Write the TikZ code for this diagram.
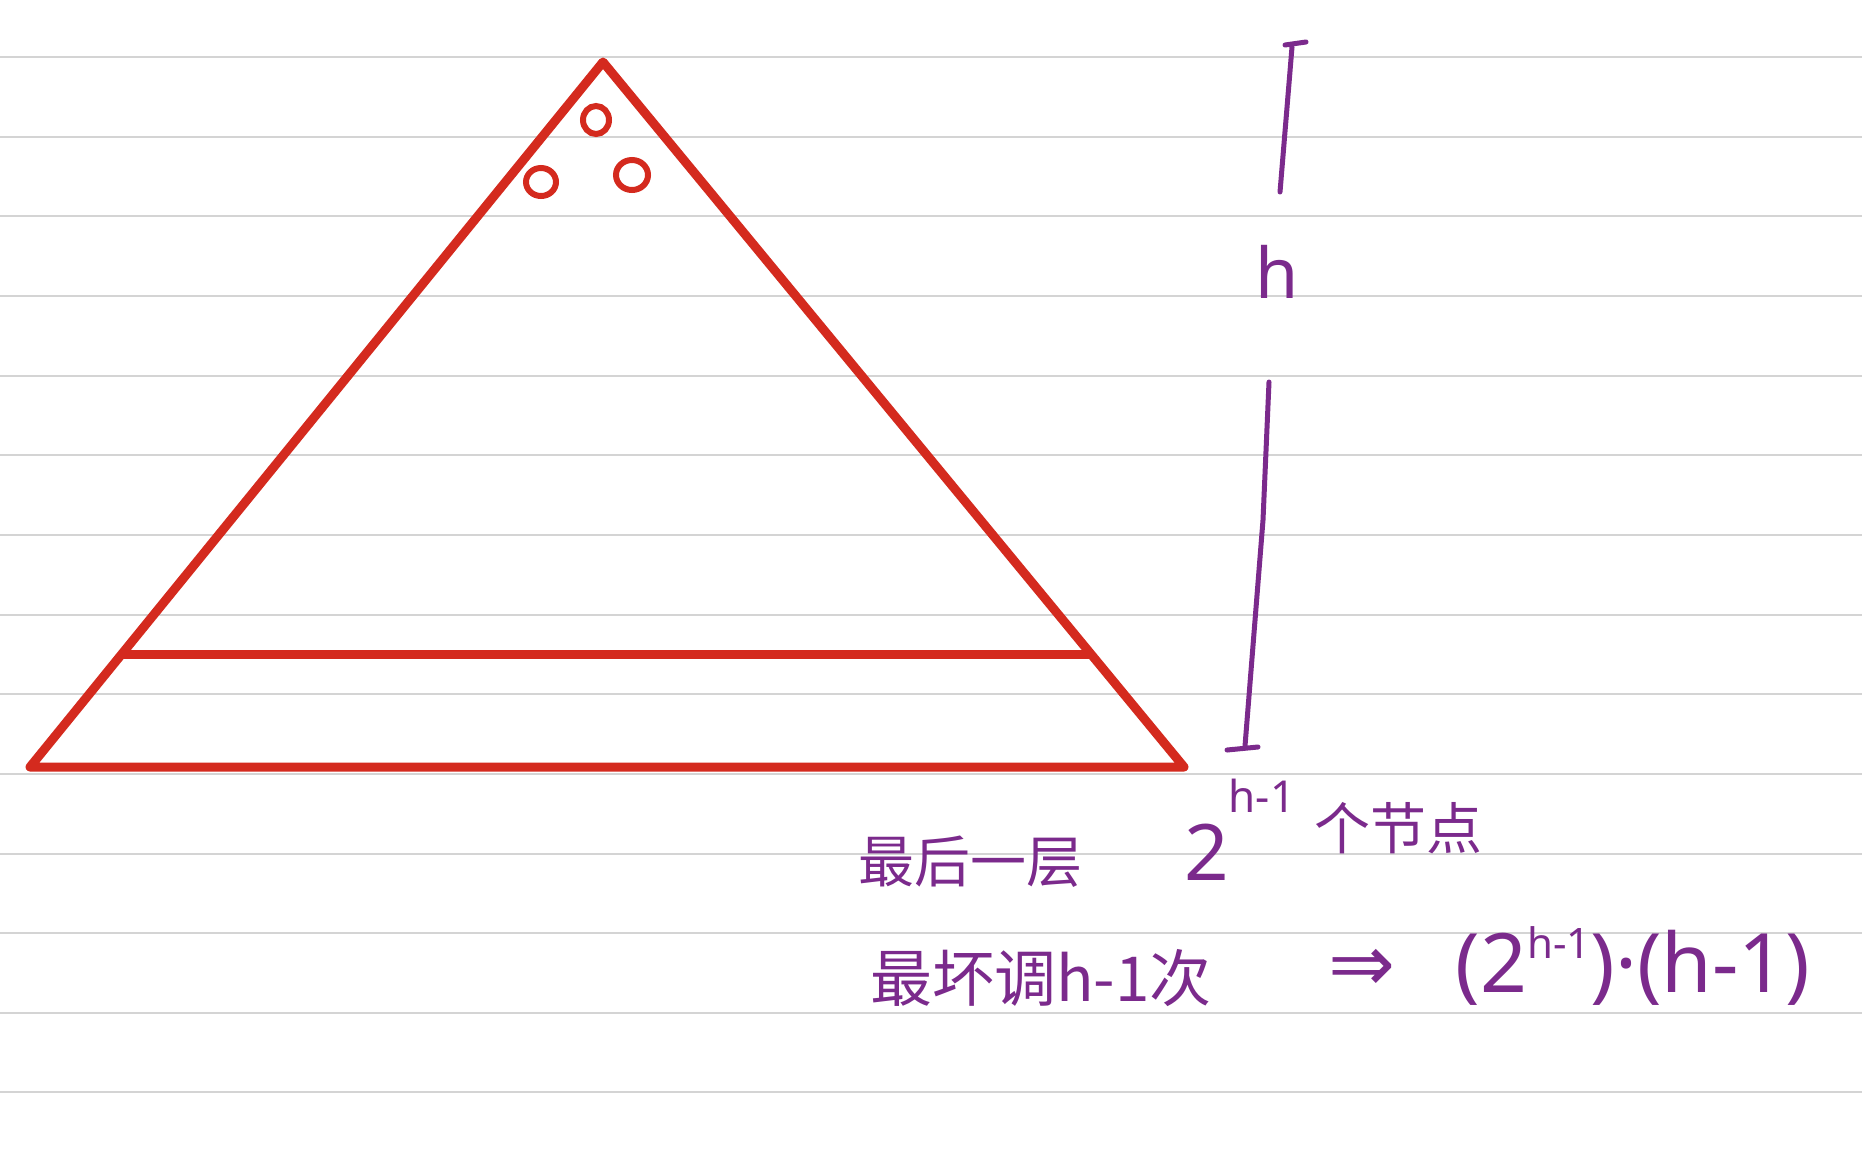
\documentclass[tikz,border=0pt]{standalone}
\usepackage{fontspec}
\setmainfont{Noto Sans}
\newfontfamily\cjk{Noto Sans CJK SC}
\newfontfamily\symf{DejaVu Sans}
\definecolor{penred}{HTML}{D42A1E}
\definecolor{penpurple}{HTML}{7B2A8C}
\definecolor{ruleline}{HTML}{D4D4D4}
\newcommand{\fs}[1]{\fontsize{#1}{#1}\selectfont}
\newcommand{\supr}[1]{\raisebox{34pt}{\fs{42}#1}}
\begin{document}
\begin{tikzpicture}[x=1pt,y=-1pt,
  ruled/.style={draw=ruleline,line width=2pt},
  redpen/.style={draw=penred,line width=9pt,line cap=round,line join=round},
  redring/.style={draw=penred,line width=6pt},
  purplepen/.style={draw=penpurple,line width=5pt,line cap=round,line join=round},
  note/.style={text=penpurple,font=\cjk\fs{56},inner sep=0pt}]
\useasboundingbox[fill=white] (0,0) rectangle (1862,1160);
% ruled paper
\foreach \k in {0,...,13}{
  \draw[ruled] (0,{57+79.65*\k}) -- (1862,{57+79.65*\k});
}
% triangle
\coordinate (apex) at (603,62);
\coordinate (bl) at (30,767);
\coordinate (br) at (1184,767);
\coordinate (il) at (123,654);
\coordinate (ir) at (1090,654);
\draw[redpen] (apex) -- (bl) -- (br) -- cycle;
\draw[redpen] (il) -- (ir);
% nodes
\draw[redring] (596,120) ellipse (13 and 14);
\draw[redring] (541,182) ellipse (15 and 14);
\draw[redring] (632,175) ellipse (16 and 15);
% height bracket
\coordinate (t1) at (1285,45);
\coordinate (t2) at (1306,42);
\coordinate (u1) at (1292,47);
\coordinate (u2) at (1280,192);
\coordinate (d1) at (1269,382);
\coordinate (dm) at (1263,520);
\coordinate (d2) at (1245,746);
\coordinate (b1) at (1227,750);
\coordinate (b2) at (1258,747);
\draw[purplepen] (t1) -- (t2);
\draw[purplepen] (u1) -- (u2);
\draw[purplepen] (d1) -- (dm) -- (d2);
\draw[purplepen] (b1) -- (b2);
\node[note,font=\fs{70}] (hlabel) at (1277,272) {h};
% texts
\node[note] (last) at (970,862) {最后一层};
\node[note,font=\fs{78}] (count) at (1207,852) {2};
\node[note,font=\fs{44}] (countexp) at (1262,796) {h-1};
\node[note] (nodes) at (1398,828) {个节点};
\node[note,font=\cjk\fs{62}] (worst) at (1041,978) {最坏调h-1次};
\node[note,font=\symf\fs{80}] (arrow) at (1362,970) {⇒};
\node[note,font=\fs{82}] (formula) at (1633,966) {(2\supr{h-1})·(h-1)};
\end{tikzpicture}
\end{document}
